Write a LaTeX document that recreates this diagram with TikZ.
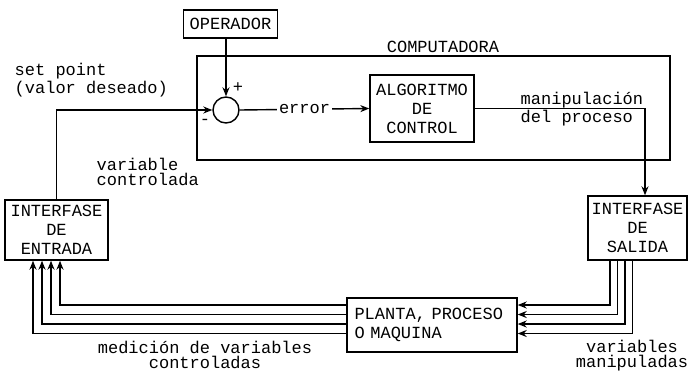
\documentclass[tikz,border=0pt]{standalone}
\usepackage{fontspec}
\setmainfont{Liberation Mono}
\usetikzlibrary{arrows.meta, positioning, calc}

\begin{document}
\begin{tikzpicture}[x=0.5pt, y=-0.5pt, line width=0.7pt,
  >={Stealth[length=4.5pt,width=3.5pt]},
  bloque/.style={draw, align=center, inner sep=1pt, font=\fontsize{8.5}{9.5}\selectfont},
  etiqueta/.style={align=left, inner sep=0pt, font=\fontsize{8.5}{7.5}\selectfont}]

\useasboundingbox (0,0) rectangle (689,370);

% computadora (caja grande)
\node[draw, minimum width=236.5pt, minimum height=52pt] (comp) at (433.5,108) {};
\node[etiqueta] (comptxt) at (443,47) {COMPUTADORA};

% bloques
\node[bloque, minimum width=47pt, minimum height=14pt] (oper) at (230.5,24) {OPERADOR};
\node[draw, circle, minimum size=13pt, inner sep=0pt] (suma) at (226,110) {};
\node[bloque, minimum width=52pt, minimum height=33.5pt] (alg) at (422,108.5) {ALGORITMO\\DE\\CONTROL};
\node[bloque, minimum width=51.5pt, minimum height=30pt] (ent) at (56.5,230) {INTERFASE\\DE\\ENTRADA};
\node[bloque, minimum width=49.5pt, minimum height=32pt] (sal) at (637.5,228) {INTERFASE\\DE\\SALIDA};
\node[bloque, align=left, text width=77.5pt, inner xsep=3.75pt, minimum height=27pt] (planta) at (432,325) {PLANTA, PROCESO\\O MAQUINA};

% signos del comparador
\node[etiqueta] (mas) at (238,88) {+};
\node[etiqueta] (menos) at (205,122) {-};

% lazo de control
\draw[->] (oper.south -| suma.north) -- (suma.north);
\draw[->] (ent.north) |- (suma.west);
\draw[->] (suma.east) -- node[fill=white, inner xsep=1pt, inner ysep=0pt, font=\fontsize{8.5}{9}\selectfont] (err) {error} (alg.west);
\draw[->] (alg.east) -| ($(sal.north)+(7.5,0)$);

% variables manipuladas
\foreach \dx/\dy in {-27.5/-20, -20/-10.5, -12.5/-1, -5/8.5}
    \draw[->] ($(sal.south)+(\dx,0)$) |- ($(planta.east)+(0,\dy)$);

% medicion de variables controladas
\foreach \dx/\dy in {3.5/-20, -5.5/-10.5, -14.5/-1, -23.5/8.5}
    \draw[->] ($(planta.west)+(0,\dy)$) -| ($(ent.south)+(\dx,0)$);

% textos
\node[etiqueta, anchor=west] (setp) at (14,80) {set point\\(valor deseado)};
\node[etiqueta, anchor=west] (varc) at (96,172) {variable\\controlada};
\node[etiqueta, anchor=west, font=\fontsize{8.5}{9}\selectfont] (manip) at (520,109) {manipulación\\del proceso};
\node[etiqueta, align=center] (medic) at (205,355) {medición de variables\\controladas};
\node[etiqueta, align=center] (varm) at (632,356) {variables\\manipuladas};

\end{tikzpicture}
\end{document}
